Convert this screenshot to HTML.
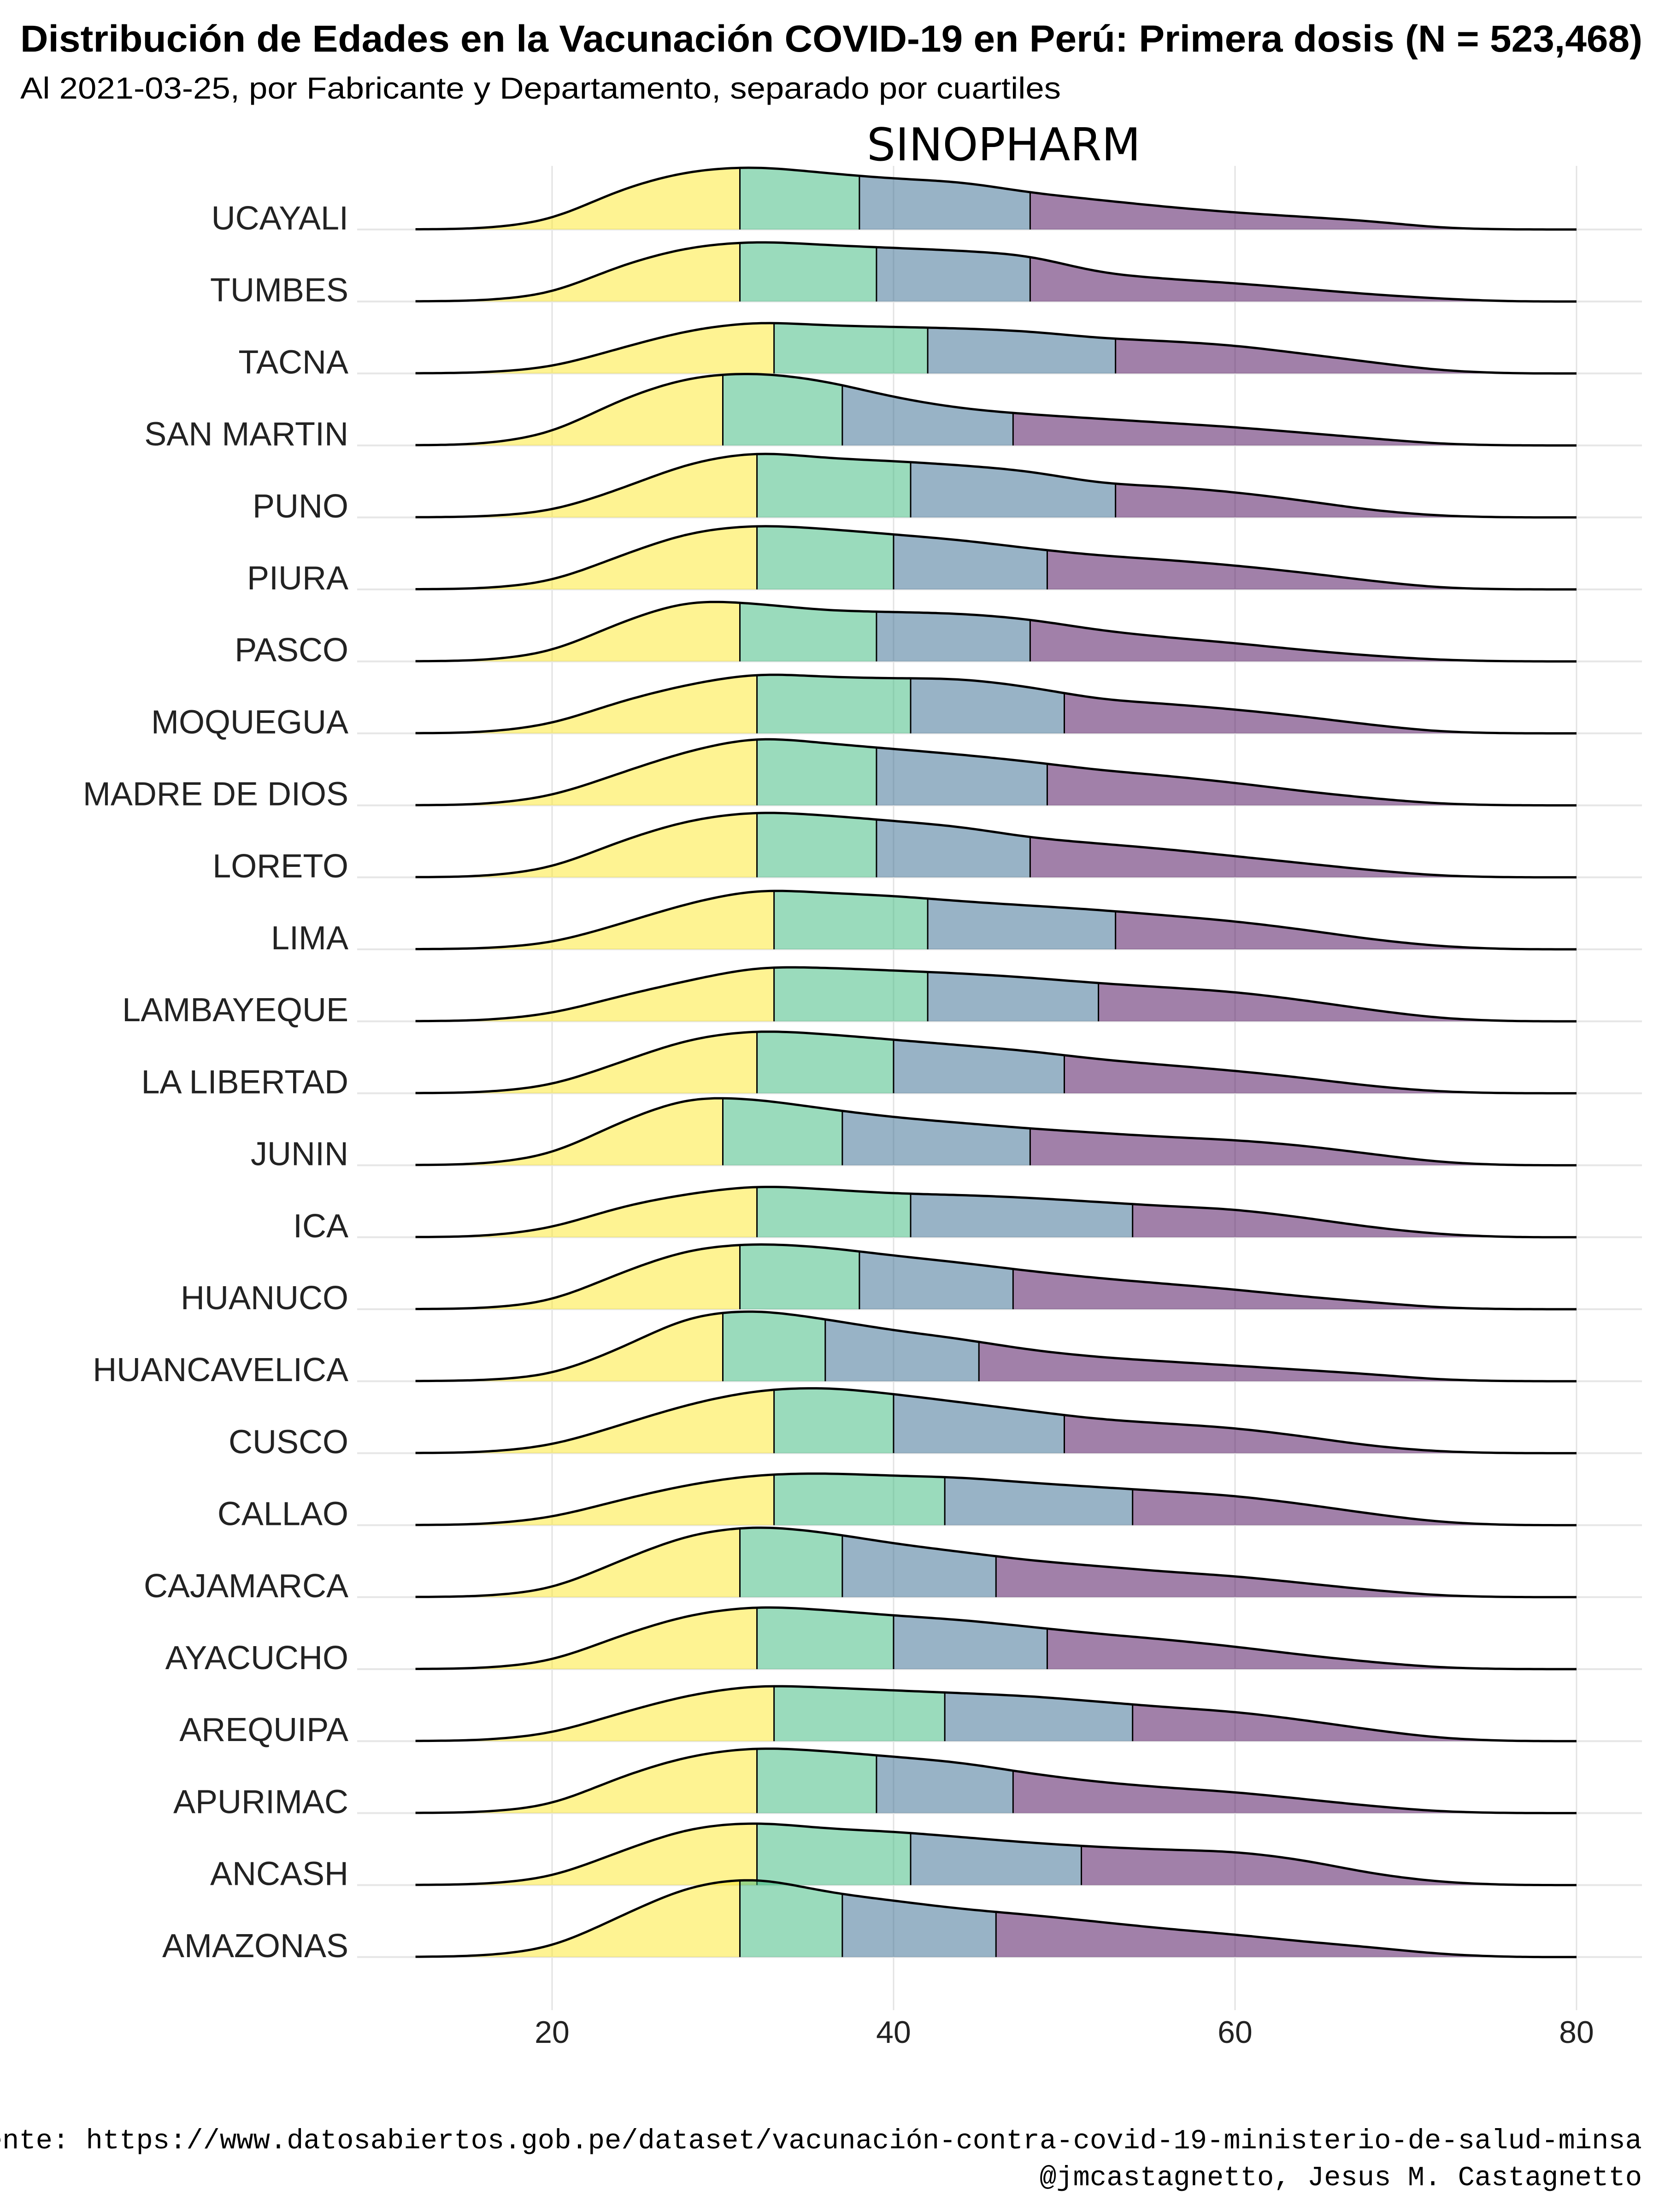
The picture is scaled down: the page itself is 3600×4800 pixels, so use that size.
<!DOCTYPE html>
<html><head><meta charset="utf-8">
<style>
html,body{margin:0;padding:0;background:#fff;}
svg{display:block;}
</style></head>
<body>
<svg id="chart" width="3600" height="4800" viewBox="0 0 3600 4800" xmlns="http://www.w3.org/2000/svg">
<rect x="0" y="0" width="3600" height="4800" fill="#ffffff"/>
<text x="44" y="112" font-family="Liberation Sans, sans-serif" font-weight="bold" font-size="82" textLength="3520" lengthAdjust="spacingAndGlyphs">Distribución de Edades en la Vacunación COVID-19 en Perú: Primera dosis (N = 523,468)</text>
<text x="44" y="214" font-family="Liberation Sans, sans-serif" font-size="66" textLength="2258" lengthAdjust="spacingAndGlyphs">Al 2021-03-25, por Fabricante y Departamento, separado por cuartiles</text>
<text x="2178" y="348" text-anchor="middle" font-family="DejaVu Sans, Liberation Sans, sans-serif" font-size="98">SINOPHARM</text>
<g id="grid"></g>
<g id="ridges"></g>
<g id="labels"></g>
<g id="xticks"></g>
<text x="3563" y="4662" text-anchor="end" font-family="Liberation Mono, DejaVu Sans Mono, monospace" font-size="60.5">Fuente: https://www.datosabiertos.gob.pe/dataset/vacunación-contra-covid-19-ministerio-de-salud-minsa</text>
<text x="3563" y="4742" text-anchor="end" font-family="Liberation Mono, DejaVu Sans Mono, monospace" font-size="60.5">@jmcastagnetto, Jesus M. Castagnetto</text>
</svg>
<script>
// ---- data ----
const departments = ["UCAYALI","TUMBES","TACNA","SAN MARTIN","PUNO","PIURA","PASCO","MOQUEGUA","MADRE DE DIOS","LORETO","LIMA","LAMBAYEQUE","LA LIBERTAD","JUNIN","ICA","HUANUCO","HUANCAVELICA","CUSCO","CALLAO","CAJAMARCA","AYACUCHO","AREQUIPA","APURIMAC","ANCASH","AMAZONAS"];
const ages = [12,16,20,24,28,32,36,40,44,48,52,56,60,64,68,72,76,80];
const densities = [
 [0,0.5,6,29,42,45,40,36,34,26,21,16,12,9,6,1,0,0],
 [0,0.5,5,26,39,43,40,38,36,33,20,16,13,9,5,2,0,0],
 [0,0.5,4,18,31,37,34,33,32,30,25,23,20,14,8,2,0,0],
 [0,0.7,8,33,49,52,46,34,26,22,19,16,13,9,5,1,0,0],
 [0,0.5,4,20,39,47,42,40,37,33,24,22,18,12,5,1,0,0],
 [0,0.5,5,24,41,46,43,39,35,29,24,21,17,12,6,1,0,0],
 [0,0.5,6,28,44,41,36,35,34,30,22,17,13,8,4,1,0,0],
 [0,0.5,6,23,35,43,40,39,39,33,24,21,17,12,6,1,0,0],
 [0,0.5,6,23,39,49,44,40,36,31,25,21,16,10,5,1,0,0],
 [0,0.5,6,26,41,47,44,40,36,28,24,20,15,10,5,1,0,0],
 [0,0.5,4,18,33,43,40,38,34,31,28,24,20,14,7,2,0,0],
 [0,0.5,5,18,29,39,38,36,34,31,27,24,21,15,8,2,0,0],
 [0,0.5,5,22,39,45,42,38,34,30,24,20,16,11,5,1,0,0],
 [0,0.7,7,31,49,47,40,34,30,26,23,20,18,14,8,2,0,0],
 [0,0.5,6,22,31,37,34,31,30,28,25,22,20,14,7,2,0,0],
 [0,0.5,5,26,43,47,44,38,33,27,22,18,14,9,5,1,0,0],
 [0,0.5,4,23,47,51,44,36,30,22,17,14,11,8,5,1,0,0],
 [0,0.5,5,20,35,45,47,42,36,30,24,21,18,12,5,1,0,0],
 [0,0.5,5,18,29,36,37,35,34,30,27,24,21,15,8,2,0,0],
 [0,0.5,5,26,45,51,46,38,32,26,22,18,15,10,5,1,0,0],
 [0,0.5,5,24,39,45,42,38,35,30,25,21,16,10,5,1,0,0],
 [0,0.5,5,20,33,40,38,36,34,32,28,24,21,15,8,2,0,0],
 [0,0.5,5,26,41,47,44,40,36,28,22,18,15,10,5,1,0,0],
 [0,0.5,5,24,41,45,40,38,34,30,27,25,24,18,8,2,0,0],
 [0,0.7,6,29,51,57,46,40,34,30,25,20,16,11,7,2,0,0]
];
const q1 = [31,31,33,30,32,32,31,32,32,32,33,33,32,30,32,31,30,33,33,31,32,33,32,32,31];
const medians = [38,39,42,37,41,40,39,41,39,39,42,42,40,37,41,38,36,40,43,37,40,43,39,41,37];
const q3 = [48,48,53,47,53,49,48,50,49,48,53,52,50,48,54,47,45,50,54,46,49,54,47,51,46];
const xTicks = [20,40,60,80];

// ---- scales ----
const NS = "http://www.w3.org/2000/svg";
const xScale = v => 1198 + (v - 20) * 37.05;
const baseY = i => 498 + i * 156.2;
const hScale = d => d * 3.06;
const colors = ["#FDE725","#35B779","#31688E","#440154"];
const STEP = 0.25;

function mk(tag, attrs, parent){
  const el = document.createElementNS(NS, tag);
  for (const k in attrs) el.setAttribute(k, attrs[k]);
  parent.appendChild(el);
  return el;
}
// linear interpolation, then gaussian smoothing -> smooth density curve
function smoothCurve(d){
  const a0 = ages[0], a1 = ages[ages.length-1];
  const n = Math.round((a1-a0)/STEP)+1;
  const lin = [];
  for (let j=0;j<n;j++){
    const a = a0 + j*STEP;
    let k = Math.min(ages.length-2, Math.floor((a-a0)/(ages[1]-ages[0])));
    const t = (a-ages[k])/(ages[k+1]-ages[k]);
    lin.push(d[k]*(1-t)+d[k+1]*t);
  }
  const sig = 1.6/STEP, R = Math.ceil(3*sig);
  const out = [];
  for (let j=0;j<n;j++){
    let s=0, w=0;
    for (let r=-R;r<=R;r++){
      const jj=j+r; if (jj<0||jj>=n) continue;
      const ww=Math.exp(-r*r/(2*sig*sig)); s+=lin[jj]*ww; w+=ww;
    }
    out.push(s/w);
  }
  return out;
}

const grid = document.getElementById('grid');
const ridges = document.getElementById('ridges');
const labels = document.getElementById('labels');
const xt = document.getElementById('xticks');

xTicks.forEach(v => {
  const l = mk('line', {x1:xScale(v), x2:xScale(v), y1:360, y2:4362, stroke:'#e3e3e3', 'stroke-width':3}, grid);
  
  
  const t = mk('text', {x:xScale(v), y:4433, 'text-anchor':'middle', 'font-family':'Liberation Sans, sans-serif', 'font-size':68, fill:'#222'}, xt);
  t.textContent = String(v);
  
  
});
departments.forEach((name, i) => {
  const l = mk('line', {x1:775, x2:3563, y1:baseY(i), y2:baseY(i), stroke:'#e6e6e6', 'stroke-width':4}, grid);
  
  
});

const a0 = ages[0], a1 = ages[ages.length-1];
departments.forEach((name, i) => {
  const g = mk('g', {}, ridges);
  
  
  const by = baseY(i);
  const sm = smoothCurve(densities[i]);
  const yAt = a => {
    const f = (a-a0)/STEP, j = Math.min(sm.length-2, Math.floor(f)), t = f-j;
    return by - hScale(sm[j]*(1-t)+sm[j+1]*t);
  };
  const cuts = [a0, q1[i], medians[i], q3[i], a1];
  for (let s = 0; s < 4; s++){
    let pts = [[xScale(cuts[s]), by]];
    for (let a = cuts[s]; a <= cuts[s+1] + 1e-9; a += STEP) pts.push([xScale(a), yAt(a)]);
    pts.push([xScale(cuts[s+1]), yAt(cuts[s+1])]);
    pts.push([xScale(cuts[s+1]), by]);
    const p = mk('polygon', {points: pts.map(p=>p[0].toFixed(1)+','+p[1].toFixed(1)).join(' '), fill:colors[s], 'fill-opacity':0.5, stroke:'none'}, g);
    
    
  }
  [q1[i], medians[i], q3[i]].forEach((q, k) => {
    const l = mk('line', {x1:xScale(q), x2:xScale(q), y1:by, y2:yAt(q), stroke:'#000', 'stroke-width':3}, g);
    
    
  });
  let dpath = '';
  for (let a = a0; a <= a1 + 1e-9; a += STEP) dpath += (a===a0?'M':'L') + xScale(a).toFixed(1) + ',' + yAt(a).toFixed(1);
  const outline = mk('path', {d:dpath, fill:'none', stroke:'#000', 'stroke-width':5, 'stroke-linejoin':'round'}, g);
  
  

  const t = mk('text', {x:756, y:by, 'text-anchor':'end', 'font-family':'Liberation Sans, sans-serif', 'font-size':72, fill:'#222'}, labels);
  t.textContent = name;
  
  
});
</script>
</body></html>
